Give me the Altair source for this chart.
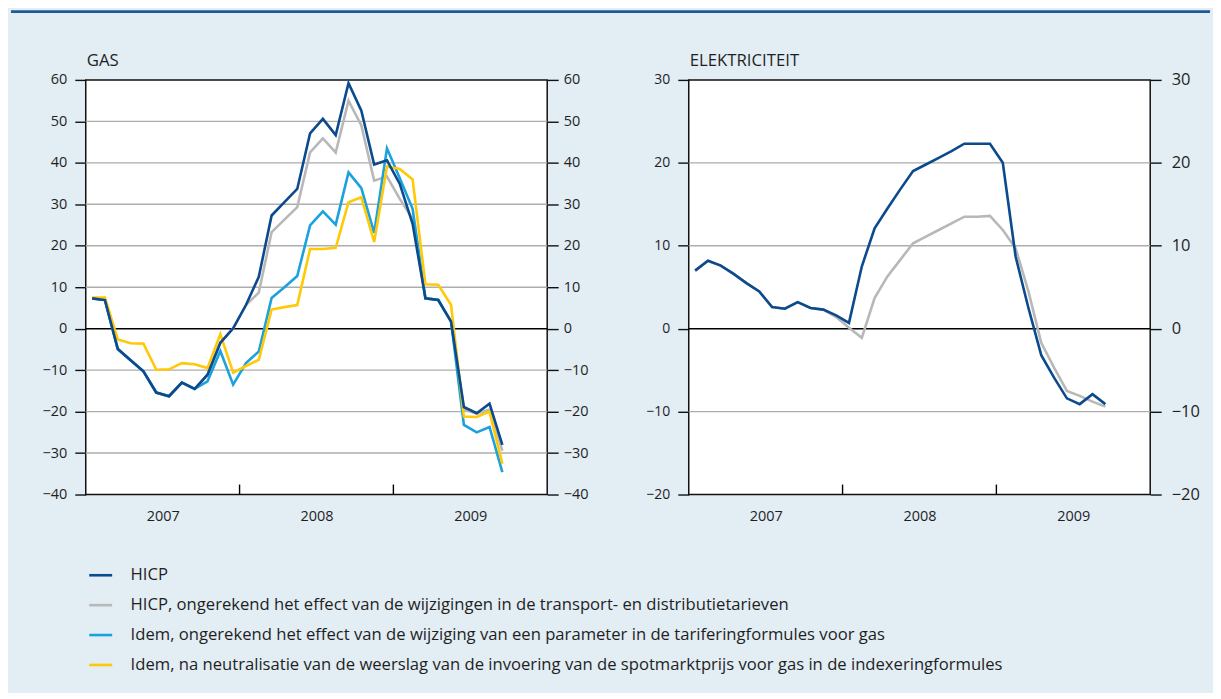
import altair as alt
import pandas as pd

# ---------------- data ----------------
years = ["2007", "2008", "2009"]
n_months = 33  # January 2007 .. September 2009
month_pos = [i + 0.5 for i in range(n_months)]
year_label_pos = [6, 18, 30]
year_boundaries = [12, 24]

series = [
    "HICP",
    "HICP, ongerekend het effect van de wijzigingen in de transport- en distributietarieven",
    "Idem, ongerekend het effect van de wijziging van een parameter in de tariferingformules voor gas",
    "Idem, na neutralisatie van de weerslag van de invoering van de spotmarktprijs voor gas in de indexeringformules",
]
colors = ["#0B4A8C", "#B8B8B8", "#1BA1DD", "#FFC907"]

gas_hicp = [7.3, 6.9, -4.9, -7.6, -10.3, -15.4, -16.3, -13.0, -14.5, -11.1, -3.4, 0.1,
            5.7, 12.5, 27.3, 30.5, 33.7, 47.1, 50.6, 46.7, 59.2, 52.6, 39.6, 40.6,
            34.9, 25.3, 7.3, 6.9, 1.7, -18.9, -20.4, -18.1, -28.0]
gas_excl_transport = [7.3, 6.9, -4.9, -7.6, -10.3, -15.4, -16.3, -13.0, -14.5, -11.1, -3.4, 0.1,
                      5.7, 8.7, 23.3, 26.3, 29.3, 42.5, 45.9, 42.5, 55.0, 49.0, 35.7, 36.7,
                      31.3, 26.5, 7.3, 6.9, 1.7, -19.5, -20.5, -19.5, -29.5]
gas_excl_param = [7.3, 6.9, -4.9, -7.6, -10.3, -15.4, -16.3, -13.0, -14.5, -12.7, -5.4, -13.5,
                  -8.3, -5.5, 7.4, 10.0, 12.7, 24.9, 28.3, 25.1, 37.7, 33.9, 23.1, 43.5,
                  36.3, 28.9, 7.3, 6.9, 1.7, -23.2, -25.0, -23.7, -34.6]
gas_spot = [7.5, 7.5, -2.6, -3.5, -3.6, -9.9, -9.8, -8.3, -8.6, -9.5, -1.3, -10.6,
            -9.0, -7.5, 4.6, 5.2, 5.7, 19.2, 19.2, 19.5, 30.5, 31.7, 20.9, 39.1,
            38.5, 36.0, 10.7, 10.6, 5.7, -21.2, -21.3, -20.0, -32.6]

elec_hicp = [7.0, 8.2, 7.6, 6.6, 5.5, 4.5, 2.6, 2.4, 3.2, 2.5, 2.3, 1.6,
             0.7, 7.5, 12.1, 14.5, 16.8, 19.0, 19.8, 20.6, 21.4, 22.3, 22.3, 22.3,
             20.0, 8.7, 2.5, -3.2, -5.9, -8.4, -9.1, -7.9, -9.1]
elec_excl_transport = [7.0, 8.2, 7.6, 6.6, 5.5, 4.5, 2.6, 2.4, 3.2, 2.5, 2.3, 1.4,
                       0.1, -1.1, 3.7, 6.3, 8.3, 10.3, 11.1, 11.9, 12.7, 13.5, 13.5, 13.6,
                       11.9, 9.7, 4.5, -1.7, -4.7, -7.5, -8.1, -8.8, -9.4]

gas_ticks = list(range(-40, 61, 10))
elec_ticks = list(range(-20, 31, 10))
panel_titles = ["GAS", "ELEKTRICITEIT"]


def long_df(value_lists, names):
    rows = []
    for name, vals in zip(names, value_lists):
        for m, v in zip(month_pos, vals):
            rows.append({"m": m, "v": v, "s": name})
    return pd.DataFrame(rows)


gas_df = long_df([gas_hicp, gas_excl_transport, gas_excl_param, gas_spot], series)
elec_df = long_df([elec_hicp, elec_excl_transport], series[:2])
zero_df = pd.DataFrame({"v": [0]})
bound_df = pd.DataFrame({"m": year_boundaries})

# ---------------- styling ----------------
FONT = "Open Sans"
TXT = "#1f1f1f"
BG = "#E2EDF4"
W, H = 463, 416

label_expr = " : ".join(
    f"datum.value == {p} ? '{y}'" for p, y in zip(year_label_pos, years)
) + " : ''"

x_enc = alt.X(
    "m:Q",
    scale=alt.Scale(domain=[0, 36], nice=False, zero=False),
    axis=alt.Axis(values=year_label_pos, labelExpr=label_expr, ticks=False, domain=False,
                  grid=False, labelPadding=15, labelFontSize=14.5, title=None),
)


def panel(df, names, ticks, title, with_legend, right_label_size, left_label_size,
          right_pad, top_line):
    ymin, ymax = ticks[0], ticks[-1]
    yscale = alt.Scale(domain=[ymin, ymax], nice=False, zero=False)
    left_axis = alt.Axis(values=ticks, orient="left", grid=False,
                         tickSize=11, tickColor="#111", tickWidth=1.4,
                         labelPadding=8, labelFontSize=left_label_size, domain=False,
                         title=None)
    right_axis = alt.Axis(values=ticks, orient="right", grid=False, tickSize=11,
                          tickColor="#111", tickWidth=1.4, labelPadding=right_pad,
                          labelFontSize=right_label_size, domain=False, title=None)
    if with_legend:
        legend = alt.Legend(orient="none", legendX=2, legendY=484, title=None,
                            symbolType="stroke", symbolSize=529, symbolStrokeWidth=2.6,
                            labelFontSize=16.7, labelFont=FONT, labelColor=TXT,
                            labelLimit=1000, labelOffset=17, rowPadding=8,
                            direction="vertical")
    else:
        legend = None
    color = alt.Color("s:N", scale=alt.Scale(domain=series, range=colors), legend=legend)

    grid_df = pd.DataFrame({"v": [t for t in ticks if t not in (ymin, ymax, 0)]})

    layers = []
    if top_line:
        layers.append(
            alt.Chart(zero_df).mark_rule(color="#1F5A97", strokeWidth=3).encode(
                x=alt.value(-75), x2=alt.value(1128), y=alt.value(-68.5))
        )
    layers.append(
        alt.Chart(zero_df).mark_text(align="left", baseline="alphabetic", font=FONT,
                                     fontSize=16.8, color=TXT).encode(
            x=alt.value(1), y=alt.value(-14), text=alt.value(title))
    )
    layers.append(
        alt.Chart(grid_df).mark_rule(color="#ADADAD", strokeWidth=1.4).encode(
            y=alt.Y("v:Q", scale=yscale, axis=None))
    )
    layers.append(
        alt.Chart(zero_df).mark_rule(color="#000", strokeWidth=1.6).encode(
            y=alt.Y("v:Q", scale=yscale, axis=right_axis))
    )
    draw_order = [series[1], series[2], series[3], series[0]]
    first = True
    for name in draw_order:
        if name not in names:
            continue
        layers.append(
            alt.Chart(df).transform_filter(alt.datum.s == name)
            .mark_line(strokeWidth=2.6, strokeJoin="miter")
            .encode(x=x_enc,
                    y=alt.Y("v:Q", scale=yscale, axis=left_axis if first else None),
                    color=color)
        )
        first = False
    layers.append(
        alt.Chart(bound_df).mark_rule(color="#000", strokeWidth=1.4).encode(
            x=x_enc, y=alt.value(H - 10), y2=alt.value(H))
    )
    return alt.layer(*layers).resolve_scale(y="independent").properties(width=W, height=H)


left = panel(gas_df, series, gas_ticks, panel_titles[0], True, 14.5, 14.5, 5, True)
right = panel(elec_df, series[:2], elec_ticks, panel_titles[1], False, 16.5, 14, 10, False)

chart = (
    alt.hconcat(left, right, spacing=142, bounds="flush")
    .resolve_scale(color="independent")
    .properties(padding={"left": 0, "top": 0, "right": 0, "bottom": 17},
                background=BG)
    .configure_view(stroke="#111", strokeWidth=1.5, fill="white")
    .configure_axis(labelFont=FONT, labelColor=TXT)
)

chart.save("out.html", embed_options={"renderer": "svg", "actions": False})
